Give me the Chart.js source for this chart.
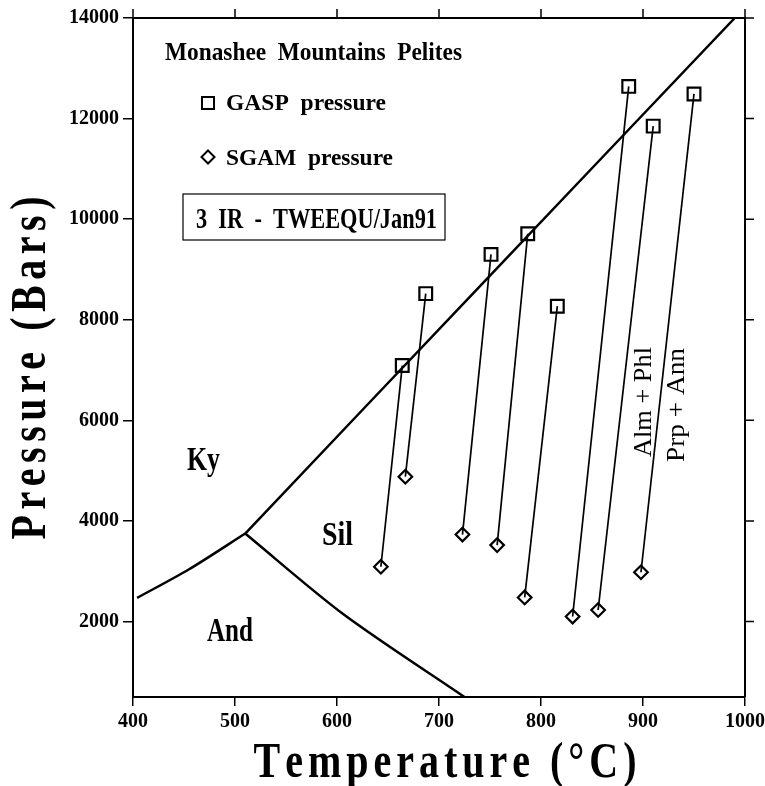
<!DOCTYPE html>
<html>
<head>
<meta charset="utf-8">
<script src="https://cdn.jsdelivr.net/npm/chart.js@4.4.1/dist/chart.umd.min.js"></script>
<style>
  html, body { margin: 0; padding: 0; background: #fff; }
  canvas { display: block; }
</style>
</head>
<body>
<canvas id="chart" width="765" height="786"></canvas>
<script>
// GASP (squares) and SGAM (diamonds) pressures, paired by index
const gaspTemp = [664, 687, 751, 787, 816, 886, 910, 950];
const gaspPres = [7090, 8520, 9300, 9710, 8270, 12640, 11850, 12490];
const sgamTemp = [643, 667, 723, 757, 784, 831, 856, 898];
const sgamPres = [3090, 4880, 3730, 3520, 2480, 2100, 2230, 2980];

// Al2SiO5 phase boundaries
const kyAndTemp = [404, 455, 510];
const kyAndPres = [2470, 3040, 3750];
const andSilTemp = [510, 606, 725];
const andSilPres = [3750, 2150, 500];
const kySilTemp = [510, 750, 990];
const kySilPres = [3750, 8880, 14000];

const tempTicks = [400, 500, 600, 700, 800, 900, 1000];
const presTicks = [2000, 4000, 6000, 8000, 10000, 12000, 14000];

const serif = '"Liberation Serif", "Times New Roman", serif';

function toPoints(xs, ys) {
    return xs.map((x, i) => ({ x: x, y: ys[i] }));
}

function boundary(xs, ys) {
    return {
        data: toPoints(xs, ys),
        showLine: true,
        borderColor: "#000",
        borderWidth: 2.5,
        pointRadius: 0,
        tension: 0.3,
    };
}

// one thin line per GASP/SGAM pair
const pairLines = gaspTemp.map((t, i) => ({
    data: [{ x: t, y: gaspPres[i] }, { x: sgamTemp[i], y: sgamPres[i] }],
    showLine: true,
    borderColor: "#000",
    borderWidth: 1.7,
    pointRadius: 0,
}));

// text squeezed to a given width (the original uses a narrow Times)
function fitText(ctx, text, left, baseline, size, width) {
    ctx.save();
    ctx.font = `bold ${size}px ${serif}`;
    const w = ctx.measureText(text).width;
    ctx.translate(left, baseline);
    ctx.scale(width / w, 1);
    ctx.textAlign = "left";
    ctx.textBaseline = "alphabetic";
    ctx.fillText(text, 0, 0);
    ctx.restore();
}

// letter-spaced text centred on (0,0) in current transform
function spacedText(ctx, text, size, sx, total) {
    ctx.font = `bold ${size}px ${serif}`;
    ctx.textAlign = "left";
    ctx.textBaseline = "alphabetic";
    const chars = [...text];
    const widths = chars.map((c) => ctx.measureText(c).width * sx);
    const sum = widths.reduce((a, b) => a + b, 0);
    const gap = (total - sum) / (chars.length - 1);
    let x = -total / 2;
    chars.forEach((c, i) => {
        ctx.save();
        ctx.translate(x, 0);
        ctx.scale(sx, 1);
        ctx.fillText(c, 0, 0);
        ctx.restore();
        x += widths[i] + gap;
    });
}

function rotatedLabel(ctx, text, x, y, size, length) {
    ctx.save();
    ctx.translate(x, y);
    ctx.rotate(-Math.PI / 2);
    ctx.font = `${size}px ${serif}`;
    ctx.textAlign = "center";
    ctx.textBaseline = "alphabetic";
    ctx.scale(length / ctx.measureText(text).width, 1);
    ctx.fillText(text, 0, 0);
    ctx.restore();
}

const decorations = {
    id: "decorations",
    afterDraw(chart) {
        const ctx = chart.ctx;
        const area = chart.chartArea;
        const xs = chart.scales.x;
        const ys = chart.scales.y;
        ctx.save();
        ctx.strokeStyle = "#000";
        ctx.fillStyle = "#000";

        // top and right frame with outward ticks
        ctx.lineWidth = 2;
        ctx.beginPath();
        ctx.moveTo(area.left, area.top);
        ctx.lineTo(area.right, area.top);
        ctx.lineTo(area.right, area.bottom);
        ctx.stroke();
        ctx.lineWidth = 1.5;
        ctx.beginPath();
        tempTicks.forEach((t) => {
            const px = xs.getPixelForValue(t);
            ctx.moveTo(px, area.top);
            ctx.lineTo(px, area.top - 9);
        });
        presTicks.forEach((p) => {
            const py = ys.getPixelForValue(p);
            ctx.moveTo(area.right, py);
            ctx.lineTo(area.right + 9, py);
        });
        ctx.stroke();

        // legend block
        fitText(ctx, "Monashee  Mountains  Pelites", 165, 60, 25, 297);
        ctx.lineWidth = 2;
        ctx.strokeRect(202, 97, 12, 12);
        ctx.beginPath();
        ctx.moveTo(208, 150.5);
        ctx.lineTo(214.5, 157);
        ctx.lineTo(208, 163.5);
        ctx.lineTo(201.5, 157);
        ctx.closePath();
        ctx.stroke();
        fitText(ctx, "GASP  pressure", 226, 110, 23, 160);
        fitText(ctx, "SGAM  pressure", 226, 165, 23, 167);
        ctx.lineWidth = 1.2;
        ctx.strokeRect(183, 194, 262, 46);
        fitText(ctx, "3  IR  -  TWEEQU/Jan91", 196, 228, 30, 241);

        // field labels
        fitText(ctx, "Ky", 187, 470, 33, 33);
        fitText(ctx, "Sil", 322, 545, 34, 31);
        fitText(ctx, "And", 207, 641, 34, 46);

        // reaction labels, rotated
        rotatedLabel(ctx, "Alm + Phl", 651, 402, 26, 110);
        rotatedLabel(ctx, "Prp + Ann", 684, 405, 26, 114);

        // axis titles
        ctx.save();
        ctx.translate(445, 777);
        spacedText(ctx, "Temperature (°C)", 50, 0.8, 383);
        ctx.restore();

        ctx.save();
        ctx.translate(45, 368);
        ctx.rotate(-Math.PI / 2);
        spacedText(ctx, "Pressure (Bars)", 50, 0.8, 343);
        ctx.restore();

        ctx.restore();
    },
};

const tickFont = { family: serif, size: 20, weight: "bold" };
const plainNumber = (v) => String(v);

new Chart(document.getElementById("chart"), {
    type: "scatter",
    data: {
        datasets: [
            {
                data: toPoints(gaspTemp, gaspPres),
                pointStyle: "rect",
                pointRadius: 9,
                borderColor: "#000",
                borderWidth: 2.2,
                backgroundColor: "rgba(0,0,0,0)",
            },
            {
                data: toPoints(sgamTemp, sgamPres),
                pointStyle: "rectRot",
                pointRadius: 6.8,
                borderColor: "#000",
                borderWidth: 2.2,
                backgroundColor: "rgba(0,0,0,0)",
            },
            ...pairLines,
            boundary(kySilTemp, kySilPres),
            boundary(kyAndTemp, kyAndPres),
            boundary(andSilTemp, andSilPres),
        ],
    },
    options: {
        responsive: false,
        animation: false,
        layout: { padding: { top: 18, right: 20, left: 0, bottom: 0 } },
        plugins: {
            legend: { display: false },
            tooltip: { enabled: false },
        },
        scales: {
            x: {
                type: "linear",
                min: 400,
                max: 1000,
                afterBuildTicks: (s) => {
                    s.ticks = tempTicks.map((v) => ({ value: v }));
                },
                afterFit: (s) => {
                    s.height = 89;
                    s.paddingLeft = 0;
                    s.paddingRight = 0;
                },
                ticks: { font: tickFont, color: "#000", padding: 4, maxRotation: 0, autoSkip: false, callback: plainNumber },
                grid: { drawOnChartArea: false, tickLength: 9, color: "#000", lineWidth: 1.5 },
                border: { color: "#000", width: 2 },
            },
            y: {
                type: "linear",
                min: 500,
                max: 14000,
                afterBuildTicks: (s) => {
                    s.ticks = presTicks.map((v) => ({ value: v }));
                },
                afterFit: (s) => {
                    s.width = 133;
                    s.paddingTop = 0;
                    s.paddingBottom = 0;
                },
                ticks: { font: tickFont, color: "#000", padding: 4, autoSkip: false, callback: plainNumber },
                grid: { drawOnChartArea: false, tickLength: 10, color: "#000", lineWidth: 1.5 },
                border: { color: "#000", width: 2 },
            },
        },
    },
    plugins: [decorations],
});
</script>
</body>
</html>
